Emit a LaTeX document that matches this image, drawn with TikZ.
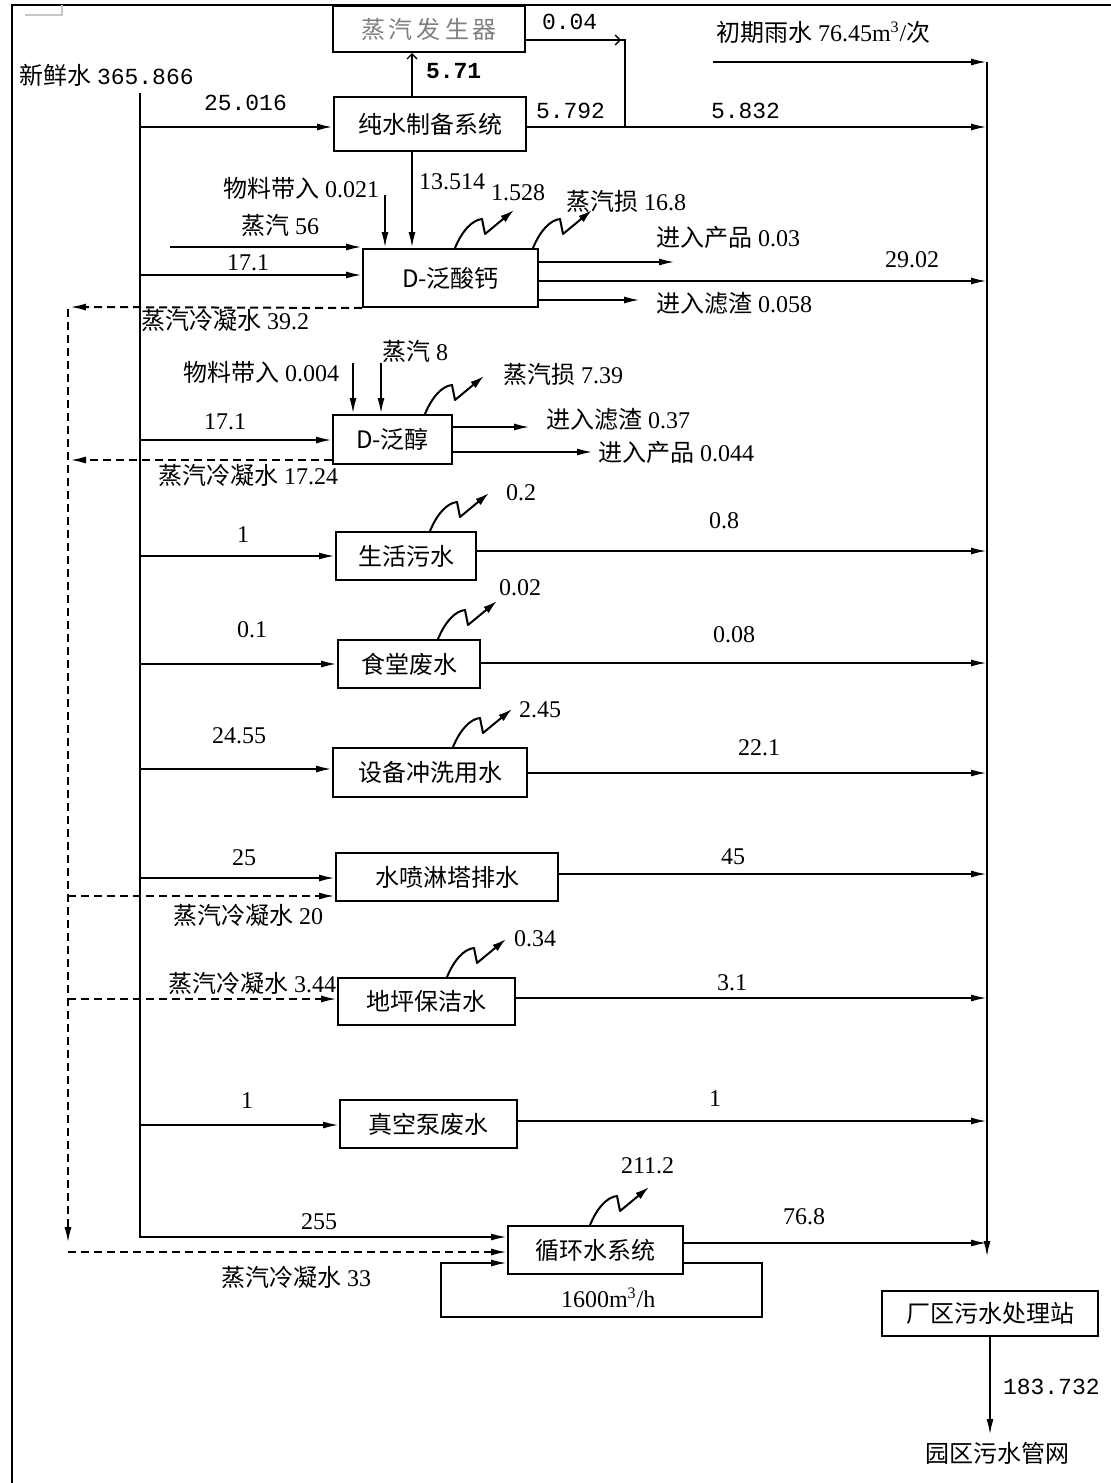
\documentclass[tikz,border=0pt]{standalone}
\usepackage{fontspec}
\setmainfont{Liberation Serif}
\newfontfamily\cjk{Noto Sans CJK SC}
\newfontfamily\monofx{Liberation Mono}
\newcommand\monof{\monofx\fontsize{11.5}{14}\selectfont}
\usetikzlibrary{arrows.meta}
\newcommand\pbox[6]{\node[box, minimum width={(#4-#2)*0.5pt}, minimum height={(#5-#3)*0.5pt}] (#1) at ({(#2+#4)/2},{(#3+#5)/2}) {#6};}
\newcommand\lbl[4]{\node[anchor=west] (#1) at (#2,#3) {#4};}
\newcommand\lossar[1]{\draw[lossarr] (#1) .. controls +(7,-17) and +(-10,1) .. ++(27,-29) -- ++(3,15) -- ++(29,-24);}
\begin{document}
\begin{tikzpicture}[x=0.5pt,y=-0.5pt, line width=1pt,
 arr/.style={-{Latex[length=8pt,width=3.5pt]}},
 oarr/.style={-{Straight Barb[length=2.5pt,width=5pt]}, line width=0.7pt},
 darr/.style={arr, dash pattern=on 4pt off 2.5pt},
 lossarr/.style={-{Latex[length=7pt,width=4pt]}, line join=round},
 box/.style={draw, inner sep=0pt, font=\cjk\fontsize{12}{14}\selectfont},
 every node/.append style={inner sep=0pt, font=\fontsize{12}{14}\selectfont}]
\useasboundingbox (0,0) rectangle (1111,1483);
% frame
\draw[line width=1.3pt] (12,1483) -- (12,5) -- (1111,5);
\draw[gray!45, line width=0.6pt] (25,15) -- (62,15) -- (62,5);

% boxes
\pbox{sg}{333}{6}{525}{52}{\color{gray}蒸\hspace{2pt}汽\hspace{2pt}发\hspace{2pt}生\hspace{2pt}器}
\pbox{cs}{334}{97}{526}{151}{纯水制备系统}
\pbox{dc}{363}{249}{538}{307}{D-泛酸钙}
\pbox{dp}{333}{415}{452}{464}{D-泛醇}
\pbox{sh}{336}{532}{476}{580}{生活污水}
\pbox{st}{338}{640}{480}{688}{食堂废水}
\pbox{sb}{333}{748}{527}{797}{设备冲洗用水}
\pbox{sp}{336}{853}{558}{901}{水喷淋塔排水}
\pbox{dj}{338}{978}{515}{1025}{地坪保洁水}
\pbox{zk}{340}{1100}{517}{1148}{真空泵废水}
\pbox{xh}{508}{1226}{683}{1274}{循环水系统}
\pbox{wt}{882}{1291}{1098}{1336}{厂区污水处理站}

% coordinates
\coordinate (fwT) at (140,93);
\coordinate (fwB) at (140,1237);
\coordinate (colT) at (987,62);
\coordinate (colB) at (987,1257);
\coordinate (rainS) at (713,62);
\coordinate (s56) at (170,247);
\coordinate (m21) at (385,195);
\coordinate (m04) at (353,363);
\coordinate (s8) at (381,363);
\coordinate (dL) at (68,309);
\coordinate (dLB) at (68,1243);
\coordinate (out) at (990,1435);

% main fresh water line
\draw[arr] (fwT) -- (fwB) -- (xh.west |- fwB);
\draw[arr] (fwT |- 0,127) -- (cs.west |- 0,127);
\draw[arr] (s56) -- (dc.west |- s56);
\draw[arr] (fwT |- 0,275) -- (dc.west |- 0,275);
\draw[arr] (fwT |- 0,440) -- (dp.west |- 0,440);
\draw[arr] (fwT |- 0,556) -- (sh.west |- 0,556);
\draw[arr] (fwT |- 0,664) -- (st.west |- 0,664);
\draw[arr] (fwT |- 0,769) -- (sb.west |- 0,769);
\draw[arr] (fwT |- 0,878) -- (sp.west |- 0,878);
\draw[arr] (fwT |- 0,1125) -- (zk.west |- 0,1125);

% verticals
\draw[oarr] (cs.north -| 412,0) -- (sg.south -| 412,0);
\draw[arr] (cs.south -| 412,0) -- (dc.north -| 412,0);
\draw[arr] (m21) -- (dc.north -| m21);
\draw[arr] (m04) -- (dp.north -| m04);
\draw[arr] (s8) -- (dp.north -| s8);

% steam generator branch
\draw (sg.east |- 0,40) -- (625,40) -- (625,127);
\draw[oarr] (600,40) -- (621,40);

% outputs to collector
\draw[arr] (colT) -- (colB);
\draw[arr] (rainS) -- (colT);
\draw[arr] (cs.east |- 0,127) -- (colT |- 0,127);
\draw[arr] (dc.east |- 0,262) -- (675,262);
\draw[arr] (dc.east |- 0,281) -- (colT |- 0,281);
\draw[arr] (dc.east |- 0,300) -- (640,300);
\draw[arr] (dp.east |- 0,427) -- (530,427);
\draw[arr] (dp.east |- 0,452) -- (593,452);
\draw[arr] (sh.east |- 0,551) -- (colT |- 0,551);
\draw[arr] (st.east |- 0,663) -- (colT |- 0,663);
\draw[arr] (sb.east |- 0,773) -- (colT |- 0,773);
\draw[arr] (sp.east |- 0,874) -- (colT |- 0,874);
\draw[arr] (dj.east |- 0,998) -- (colT |- 0,998);
\draw[arr] (zk.east |- 0,1121) -- (colT |- 0,1121);
\draw[arr] (xh.east |- 0,1243) -- (colT |- 0,1243);
\draw[arr] (wt.south) -- (out);

% condensate (dashed)
\draw[darr] (dc.south west) -- (70,307);
\draw[darr] (dL) -- (dLB);
\draw[darr] (68,1252) -- (xh.west |- 0,1252);
\draw[darr] (dp.west |- 0,460) -- (70,460);
\draw[darr] (68,896) -- (sp.west |- 0,896);
\draw[darr] (68,999) -- (dj.west |- 0,999);

% circulation loop
\draw[arr] (xh.east |- 0,1263) -- (762,1263) -- (762,1317) -- (441,1317) -- (441,1263) -- (xh.west |- 0,1263);

% losses
\lossar{dc.north -| 455,0}
\lossar{dc.north -| 533,0}
\lossar{dp.north -| 425,0}
\lossar{sh.north -| 430,0}
\lossar{st.north -| 438,0}
\lossar{sb.north -| 453,0}
\lossar{dj.north -| 447,0}
\lossar{xh.north -| 590,0}

% labels
\lbl{l1}{18}{75}{{\cjk 新鲜水} {\monof 365.866}}
\lbl{l2}{203}{103}{\monof 25.016}
\lbl{l3}{541}{22}{\monof 0.04}
\lbl{l4}{715}{32}{{\cjk 初期雨水} 76.45m\textsuperscript{3}/{\cjk 次}}
\lbl{l5}{425}{71}{\monof\bfseries 5.71}
\lbl{l6}{535}{111}{\monof 5.792}
\lbl{l7}{710}{111}{\monof 5.832}
\lbl{l8}{222}{188}{{\cjk 物料带入} 0.021}
\lbl{l9}{418}{182}{13.514}
\lbl{l10}{490}{193}{1.528}
\lbl{l11}{565}{201}{{\cjk 蒸汽损} 16.8}
\lbl{l12}{240}{225}{{\cjk 蒸汽} 56}
\lbl{l13}{655}{237}{{\cjk 进入产品} 0.03}
\lbl{l14}{226}{263}{17.1}
\lbl{l15}{884}{260}{29.02}
\lbl{l16}{655}{303}{{\cjk 进入滤渣} 0.058}
\lbl{l17}{140}{320}{{\cjk 蒸汽冷凝水} 39.2}
\lbl{l18}{381}{351}{{\cjk 蒸汽} 8}
\lbl{l19}{182}{372}{{\cjk 物料带入} 0.004}
\lbl{l20}{502}{374}{{\cjk 蒸汽损} 7.39}
\lbl{l21}{545}{419}{{\cjk 进入滤渣} 0.37}
\lbl{l22}{203}{422}{17.1}
\lbl{l23}{597}{452}{{\cjk 进入产品} 0.044}
\lbl{l24}{157}{475}{{\cjk 蒸汽冷凝水} 17.24}
\lbl{l25}{505}{493}{0.2}
\lbl{l26}{236}{535}{1}
\lbl{l27}{708}{521}{0.8}
\lbl{l28}{498}{588}{0.02}
\lbl{l29}{236}{630}{0.1}
\lbl{l30}{712}{635}{0.08}
\lbl{l31}{518}{710}{2.45}
\lbl{l32}{211}{736}{24.55}
\lbl{l33}{737}{748}{22.1}
\lbl{l34}{231}{858}{25}
\lbl{l35}{720}{857}{45}
\lbl{l36}{172}{915}{{\cjk 蒸汽冷凝水} 20}
\lbl{l37}{513}{939}{0.34}
\lbl{l38}{167}{983}{{\cjk 蒸汽冷凝水} 3.44}
\lbl{l39}{716}{983}{3.1}
\lbl{l40}{240}{1101}{1}
\lbl{l41}{708}{1099}{1}
\lbl{l42}{620}{1166}{211.2}
\lbl{l43}{300}{1222}{255}
\lbl{l44}{782}{1217}{76.8}
\lbl{l45}{220}{1277}{{\cjk 蒸汽冷凝水} 33}
\lbl{l46}{560}{1298}{1600m\textsuperscript{3}/h}
\lbl{l47}{1002}{1387}{\monof 183.732}
\node[font=\cjk\fontsize{12}{14}\selectfont] (l48) at (997,1453) {园区污水管网};
\end{tikzpicture}
\end{document}
